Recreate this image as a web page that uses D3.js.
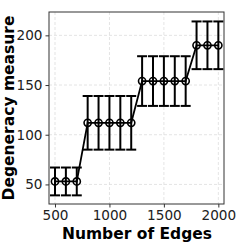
<!DOCTYPE html>
<html>
<head>
<meta charset="utf-8">
<script src="https://cdn.jsdelivr.net/npm/d3@7/dist/d3.min.js"></script>
<style>
  body { margin: 0; background: #fff; }
  svg { display: block; font-family: "DejaVu Sans", sans-serif; }
</style>
</head>
<body>
<svg id="chart" width="249" height="249"></svg>
<script>
// data
const edges = [500, 600, 700, 800, 900, 1000, 1100, 1200, 1300, 1400, 1500, 1600, 1700, 1800, 1900, 2000];
const degeneracy = [53, 53, 53, 112, 112, 112, 112, 112, 154, 154, 154, 154, 154, 190, 190, 190];
const errors = [14, 14, 14, 27, 27, 27, 27, 27, 25, 25, 25, 25, 25, 24, 24, 24];
const xTicks = [500, 1000, 1500, 2000];
const yTicks = [50, 100, 150, 200];

const svg = d3.select('#chart');
const frame = { left: 49, right: 224, top: 12, bottom: 204 };

const x = d3.scaleLinear().domain([445, 2052]).range([frame.left, frame.right]);
const y = d3.scaleLinear().domain([30.3, 223.5]).range([frame.bottom, frame.top]);

// grid
const grid = svg.append('g');
grid.selectAll('line.gx').data(xTicks).join('line')
  .attr('x1', d => x(d)).attr('x2', d => x(d))
  .attr('y1', frame.top).attr('y2', frame.bottom)
  .attr('stroke', '#ddd').attr('stroke-width', 0.8).attr('stroke-dasharray', '3,2');
grid.selectAll('line.gy').data(yTicks).join('line')
  .attr('y1', d => y(d)).attr('y2', d => y(d))
  .attr('x1', frame.left).attr('x2', frame.right)
  .attr('stroke', '#ddd').attr('stroke-width', 0.8).attr('stroke-dasharray', '3,2');

// axes
const xAxis = svg.append('g')
  .attr('transform', `translate(0,${frame.bottom})`)
  .call(d3.axisBottom(x).tickValues(xTicks).tickFormat(d3.format('d'))
    .tickSize(3.5).tickPadding(3).tickSizeOuter(0));
const yAxis = svg.append('g')
  .attr('transform', `translate(${frame.left},0)`)
  .call(d3.axisLeft(y).tickValues(yTicks).tickFormat(d3.format('d'))
    .tickSize(3.5).tickPadding(3).tickSizeOuter(0));
[xAxis, yAxis].forEach(a => {
  a.select('.domain').remove();
  a.selectAll('text').attr('font-size', 13.6).attr('fill', '#222')
    .attr('font-family', '"DejaVu Sans", sans-serif');
  a.selectAll('line').attr('stroke', '#333');
});

svg.append('rect')
  .attr('x', frame.left).attr('y', frame.top)
  .attr('width', frame.right - frame.left).attr('height', frame.bottom - frame.top)
  .attr('fill', 'none').attr('stroke', '#333').attr('stroke-width', 1);

// error bars
const eb = svg.append('g').attr('stroke', '#000').attr('stroke-width', 2);
edges.forEach((e, i) => {
  const cx = x(e), lo = y(degeneracy[i] - errors[i]), hi = y(degeneracy[i] + errors[i]);
  eb.append('line').attr('x1', cx).attr('x2', cx).attr('y1', lo).attr('y2', hi);
  eb.append('line').attr('x1', cx - 5).attr('x2', cx + 5).attr('y1', lo).attr('y2', lo);
  eb.append('line').attr('x1', cx - 5).attr('x2', cx + 5).attr('y1', hi).attr('y2', hi);
});

// line + markers
const line = d3.line().x((d, i) => x(edges[i])).y(d => y(d));
svg.append('path').datum(degeneracy)
  .attr('fill', 'none').attr('stroke', '#000').attr('stroke-width', 1.8)
  .attr('d', line);
svg.append('g').selectAll('circle').data(degeneracy).join('circle')
  .attr('cx', (d, i) => x(edges[i])).attr('cy', d => y(d))
  .attr('r', 3.6).attr('fill', 'none').attr('stroke', '#000').attr('stroke-width', 1.6);

// labels
svg.append('text')
  .attr('x', (frame.left + frame.right) / 2 + 0.5).attr('y', 239)
  .attr('text-anchor', 'middle').attr('font-size', 15.5).attr('font-weight', 'bold')
  .text('Number of Edges');
svg.append('text')
  .attr('transform', `translate(14,${(frame.top + frame.bottom) / 2}) rotate(-90)`)
  .attr('text-anchor', 'middle').attr('font-size', 15.5).attr('font-weight', 'bold')
  .text('Degeneracy measure');
</script>
</body>
</html>
